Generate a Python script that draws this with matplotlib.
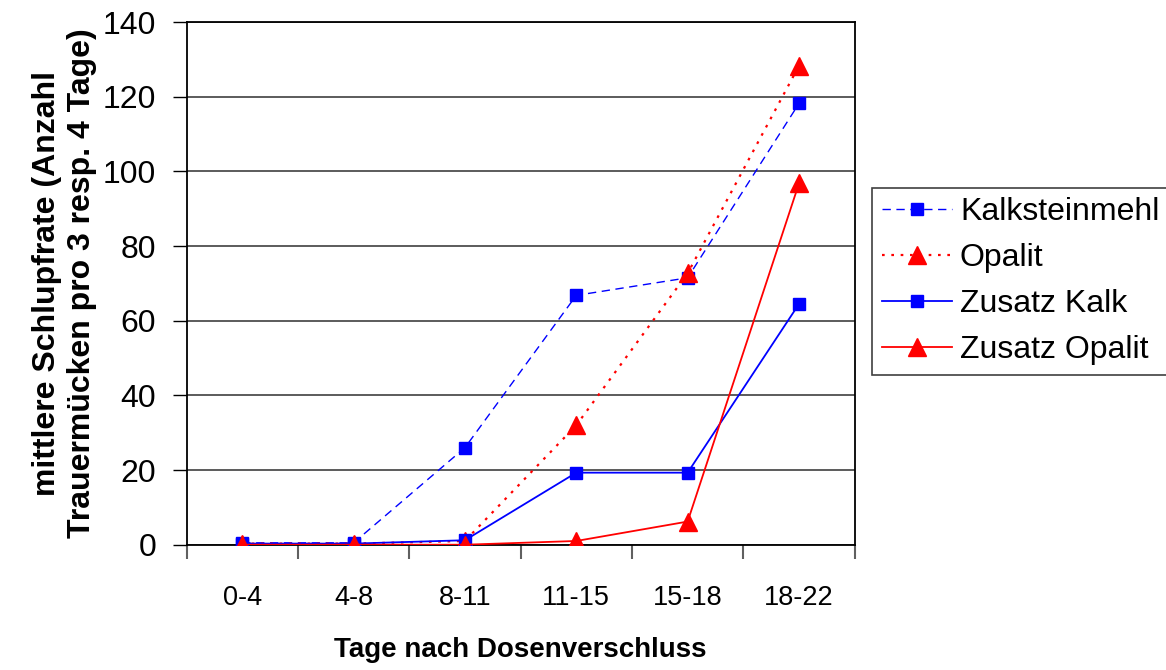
import numpy as np
import matplotlib.pyplot as plt
from matplotlib import font_manager

# Schlupfrate je Zeitraum
tage = ['0-4', '4-8', '8-11', '11-15', '15-18', '18-22']
kalksteinmehl = [0.5, 0.5, 26, 66.8, 71.5, 118.2]
opalit = [0.3, 0.3, 1.0, 32, 72.7, 128.3]
zusatz_kalk = [0.3, 0.3, 1.2, 19.3, 19.3, 64.5]
zusatz_opalit = [0, 0, 0, 1.0, 6.2, 96.8]

plt.rcParams['font.family'] = ['Liberation Sans', 'DejaVu Sans']
names = {f.name for f in font_manager.fontManager.ttflist}
has_narrow = 'Liberation Sans Narrow' in names
narrow = 'Liberation Sans Narrow' if has_narrow else 'Liberation Sans'

fig = plt.figure(figsize=(11.66, 6.70), dpi=100)
ax = fig.add_axes([0.160, 0.187, 0.573, 0.780])

x = np.arange(len(tage))
ax.plot(x, kalksteinmehl, color='#0000ff', lw=1, ls=(0, (6, 4)), marker='s', ms=9,
        label='Kalksteinmehl', zorder=3)
ax.plot(x, opalit, color='#ff0000', lw=1.6, ls=(0, (1.2, 3)), marker='^', ms=13,
        label='Opalit', zorder=3)
ax.plot(x, zusatz_kalk, color='#0000ff', lw=1.3, marker='s', ms=9,
        label='Zusatz Kalk', zorder=3)
ax.plot(x, zusatz_opalit, color='#ff0000', lw=1.3, marker='^', ms=13,
        label='Zusatz Opalit', zorder=3)

ax.set_xlim(-0.5, len(tage) - 0.5)
ax.set_ylim(0, 140)
ax.set_yticks(np.arange(0, 141, 20))
ax.yaxis.grid(True, color='#404040', lw=1.2)
ax.set_axisbelow(True)

ax.tick_params(axis='x', which='major', direction='out', length=10, width=1.5, color='#606060')
ax.tick_params(axis='x', which='minor', length=0, pad=29, labelsize=22 if has_narrow else 19.5)
ax.tick_params(axis='y', direction='out', length=10, width=1, labelsize=23, pad=12)
ax.set_xticks(np.arange(-0.5, len(tage), 1))
ax.set_xticklabels([])
ax.set_xticks(x, minor=True)
ax.set_xticklabels(tage, minor=True, family=narrow)

for s in ax.spines.values():
    s.set_linewidth(1.3)
ax.spines['bottom'].set_position(('data', 0))

ax.set_xlabel('Tage nach Dosenverschluss', fontsize=23 if has_narrow else 20,
              fontweight='bold', family=narrow, labelpad=19)
ax.set_ylabel('mittlere Schlupfrate (Anzahl\nTrauermücken pro 3 resp. 4 Tage)',
              fontsize=23, fontweight='bold', linespacing=1.2, labelpad=4)

leg = ax.legend(loc='upper left', bbox_to_anchor=(1.026, 0.683), fontsize=23,
                frameon=True, fancybox=False, edgecolor='#404040', framealpha=1,
                handlelength=2.2, labelspacing=0.5, borderpad=0.3, handletextpad=0.25,
                borderaxespad=0)
leg.get_frame().set_linewidth(1.2)

fig.savefig('out.png', dpi=100)
